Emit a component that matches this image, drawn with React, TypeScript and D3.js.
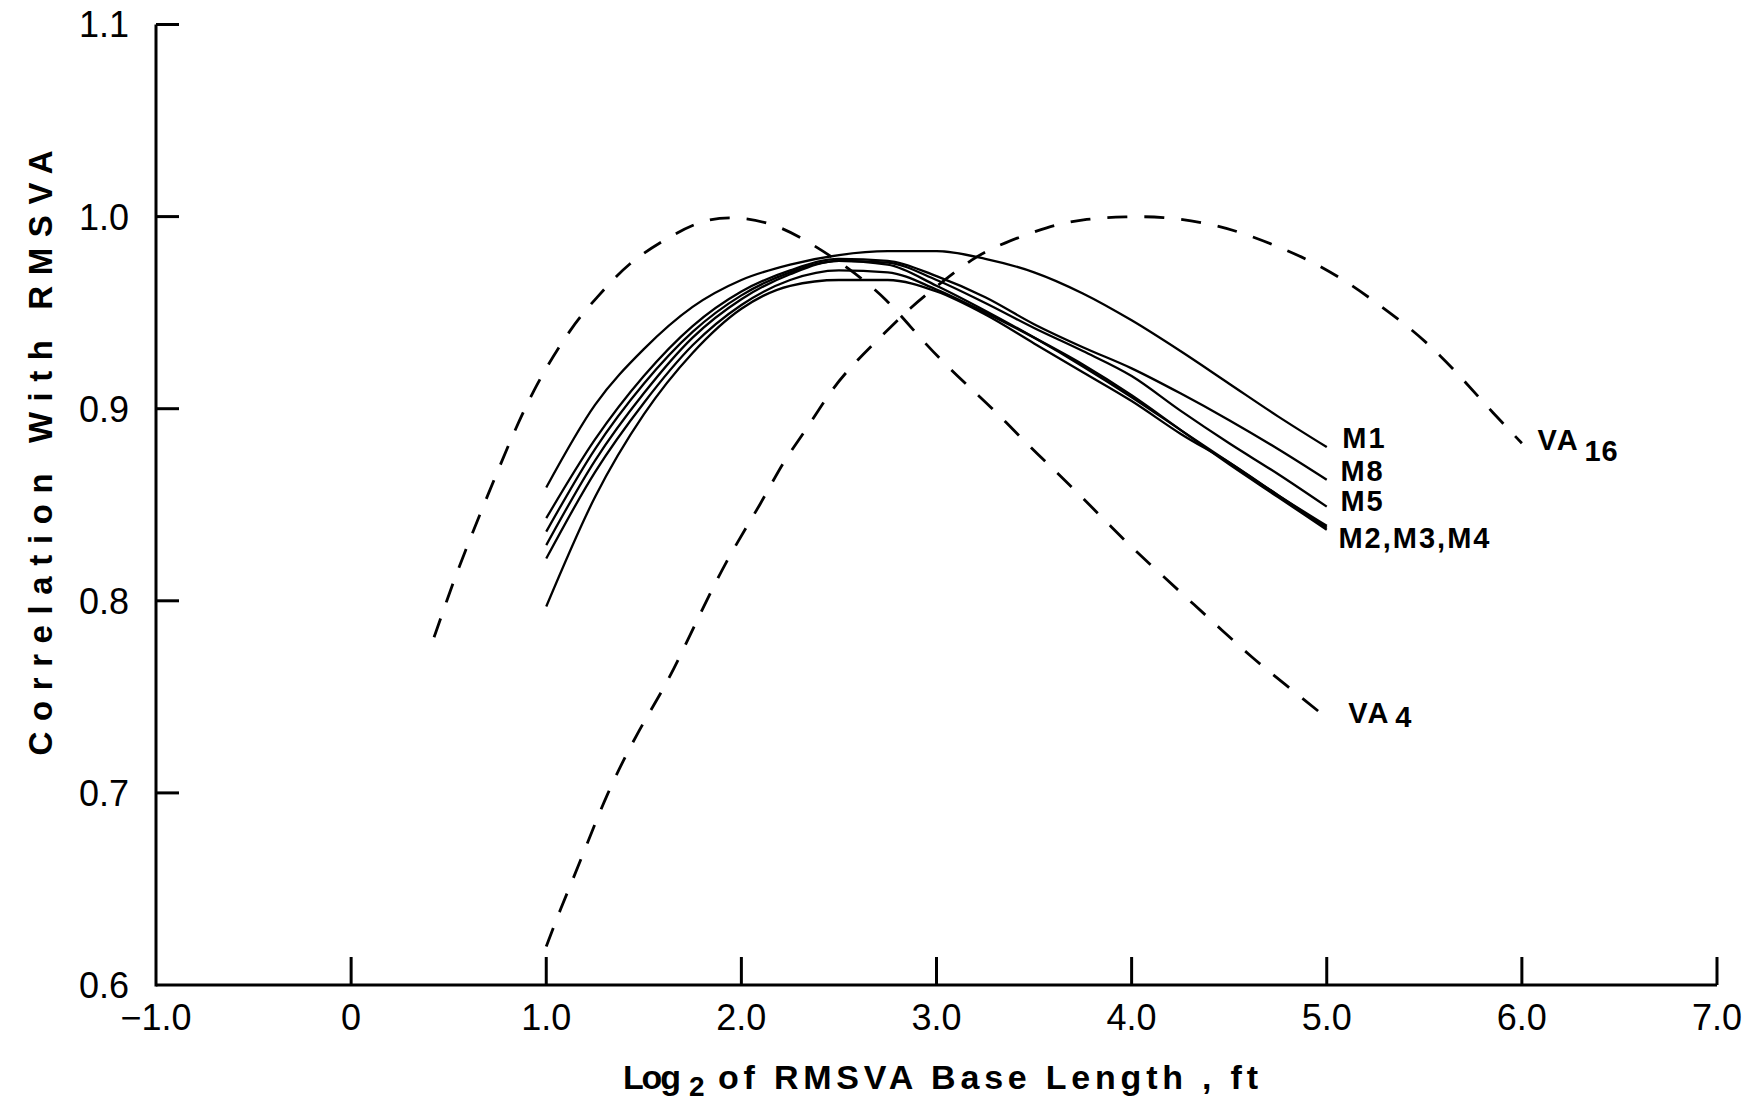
import React from "react";
import * as d3 from "d3";

const W = 1746;
const H = 1107;

// axis ticks
const xTicks = [-1, 0, 1, 2, 3, 4, 5, 6, 7];
const xTickLabels = ["\u22121.0", "0", "1.0", "2.0", "3.0", "4.0", "5.0", "6.0", "7.0"];
const yTicks = [0.6, 0.7, 0.8, 0.9, 1.0, 1.1];
const yTickLabels = ["0.6", "0.7", "0.8", "0.9", "1.0", "1.1"];

// base length (log2 ft) for the M curves
const mX = [1.0, 1.25, 1.5, 1.75, 2.0, 2.25, 2.5, 2.75, 3.0, 3.25, 3.5, 3.75, 4.0, 4.25, 4.5, 4.75, 5.0];
const m1 = [0.859, 0.902, 0.931, 0.953, 0.967, 0.975, 0.980, 0.982, 0.982, 0.978, 0.971, 0.960, 0.946, 0.930, 0.913, 0.896, 0.880];
const m8 = [0.843, 0.884, 0.917, 0.943, 0.961, 0.972, 0.978, 0.977, 0.969, 0.958, 0.944, 0.932, 0.921, 0.908, 0.894, 0.879, 0.863];
const m5 = [0.836, 0.879, 0.913, 0.940, 0.959, 0.971, 0.977, 0.976, 0.967, 0.955, 0.942, 0.930, 0.917, 0.899, 0.882, 0.866, 0.849];
const m2 = [0.829, 0.873, 0.908, 0.937, 0.957, 0.970, 0.977, 0.975, 0.964, 0.951, 0.937, 0.922, 0.906, 0.889, 0.872, 0.855, 0.839];
const m3 = [0.822, 0.867, 0.903, 0.933, 0.954, 0.967, 0.972, 0.971, 0.962, 0.950, 0.937, 0.923, 0.907, 0.889, 0.871, 0.854, 0.837];
const m4 = [0.797, 0.854, 0.897, 0.929, 0.952, 0.964, 0.967, 0.967, 0.961, 0.949, 0.934, 0.919, 0.904, 0.887, 0.872, 0.855, 0.838];

// VA4 dashed
const va4X = [0.425, 0.49, 0.56, 0.78, 0.93, 1.13, 1.26, 1.42, 1.62, 1.81, 1.99, 2.18, 2.36, 2.54, 2.75, 2.92, 3.11, 3.28, 3.47, 3.62, 3.75, 3.9, 4.03, 4.17, 4.32, 4.46, 4.61, 4.78, 5.0];
const va4Y = [0.781, 0.8, 0.82, 0.875, 0.91, 0.943, 0.958, 0.976, 0.989, 0.999, 1.0, 0.996, 0.986, 0.974, 0.957, 0.936, 0.9165, 0.901, 0.881, 0.8665, 0.8535, 0.838, 0.825, 0.812, 0.798, 0.785, 0.771, 0.757, 0.739];

// VA16 dashed
const va16X = [1.0, 1.07, 1.17, 1.31, 1.48, 1.62, 1.75, 1.92, 2.11, 2.21, 2.34, 2.46, 2.59, 2.73, 2.87, 2.98, 3.19, 3.34, 3.57, 3.77, 3.97, 4.16, 4.37, 4.56, 4.76, 4.94, 5.12, 5.27, 5.44, 5.58, 5.7, 5.85, 6.0];
const va16Y = [0.62, 0.639, 0.663, 0.7, 0.734, 0.757, 0.785, 0.821, 0.852, 0.872, 0.89, 0.91, 0.925, 0.939, 0.953, 0.962, 0.979, 0.986, 0.995, 0.999, 1.0, 1.0, 0.997, 0.992, 0.984, 0.976, 0.965, 0.954, 0.941, 0.928, 0.915, 0.898, 0.882];

const solidSeries = [m1, m8, m5, m2, m3, m4];

// curve end labels (data coords)
const endLabels = [
  { text: "M1", x: 5.08, y: 0.8848 },
  { text: "M8", x: 5.07, y: 0.8676 },
  { text: "M5", x: 5.07, y: 0.852 },
  { text: "M2,M3,M4", x: 5.06, y: 0.833 },
];

const FONT = "'Liberation Sans', Arial, sans-serif";

export default function App() {
  const x = d3.scaleLinear().domain([-1, 7]).range([156, 1717]);
  const y = d3.scaleLinear().domain([0.6, 1.1]).range([985, 24.5]);

  const smooth = d3
    .line<[number, number]>()
    .x((d) => x(d[0]))
    .y((d) => y(d[1]))
    .curve(d3.curveMonotoneX);

  const soft = d3
    .line<[number, number]>()
    .x((d) => x(d[0]))
    .y((d) => y(d[1]))
    .curve(d3.curveBasis);

  const zip = (xs: number[], ys: number[]) => xs.map((v, i) => [v, ys[i]] as [number, number]);

  return (
    <div style={{ position: "absolute", left: 0, top: 0, background: "#fff" }}>
      <svg width={W} height={H} style={{ display: "block", fontFamily: FONT }}>
        <rect width={W} height={H} fill="#fff" />

        {/* axes */}
        <line x1={x(-1)} x2={x(-1)} y1={y(1.1)} y2={y(0.6) + 1.5} stroke="#000" strokeWidth={3} />
        <line x1={x(-1)} x2={x(7)} y1={y(0.6)} y2={y(0.6)} stroke="#000" strokeWidth={3} />
        {yTicks.slice(1).map((t) => (
          <line key={t} x1={x(-1)} x2={x(-1) + 23} y1={y(t)} y2={y(t)} stroke="#000" strokeWidth={3} />
        ))}
        {xTicks.slice(1).map((t) => (
          <line key={t} x1={x(t)} x2={x(t)} y1={y(0.6)} y2={y(0.6) - 28} stroke="#000" strokeWidth={3} />
        ))}

        {yTicks.map((t, i) => (
          <text key={t} x={x(-1) - 27} y={y(t)} dy="0.36em" textAnchor="end" fontSize={36}>
            {yTickLabels[i]}
          </text>
        ))}
        {xTicks.map((t, i) => (
          <text key={t} x={x(t)} y={y(0.6) + 45} textAnchor="middle" fontSize={36}>
            {xTickLabels[i]}
          </text>
        ))}

        {/* axis titles */}
        <text
          transform={`translate(40,453) rotate(-90)`}
          textAnchor="middle"
          dy="0.36em"
          fontSize={33}
          fontWeight="bold"
          textLength={605}
          lengthAdjust="spacing"
        >
          Correlation With RMSVA
        </text>
        <text x={623} y={1089} fontSize={34} fontWeight="bold" textLength={58} lengthAdjust="spacing">
          Log
        </text>
        <text x={689} y={1096} fontSize={28} fontWeight="bold">
          2
        </text>
        <text x={718} y={1089} fontSize={34} fontWeight="bold" textLength={540} lengthAdjust="spacing">
          of RMSVA Base Length , ft
        </text>

        {/* curves */}
        <path d={soft(zip(va4X, va4Y)) || ""} fill="none" stroke="#000" strokeWidth={2.8} strokeDasharray="20 17" />
        <path d={soft(zip(va16X, va16Y)) || ""} fill="none" stroke="#000" strokeWidth={2.8} strokeDasharray="20 17" />
        {solidSeries.map((s, i) => (
          <path key={i} d={smooth(zip(mX, s)) || ""} fill="none" stroke="#000" strokeWidth={2.3} />
        ))}

        {/* labels */}
        {endLabels.map((l) => (
          <text key={l.text} x={x(l.x)} y={y(l.y)} dy="0.36em" fontSize={29} fontWeight="bold" letterSpacing={2}>
            {l.text}
          </text>
        ))}
        <text x={x(6.08)} y={y(0.884)} dy="0.36em" fontSize={29} fontWeight="bold" letterSpacing={2}>
          VA
        </text>
        <text x={x(6.08) + 47} y={y(0.884) + 11} dy="0.36em" fontSize={29} fontWeight="bold" letterSpacing={1}>
          16
        </text>
        <text x={x(5.11)} y={y(0.742)} dy="0.36em" fontSize={29} fontWeight="bold" letterSpacing={2}>
          VA
        </text>
        <text x={x(5.11) + 47} y={y(0.742) + 4} dy="0.36em" fontSize={29} fontWeight="bold">
          4
        </text>
      </svg>
    </div>
  );
}
